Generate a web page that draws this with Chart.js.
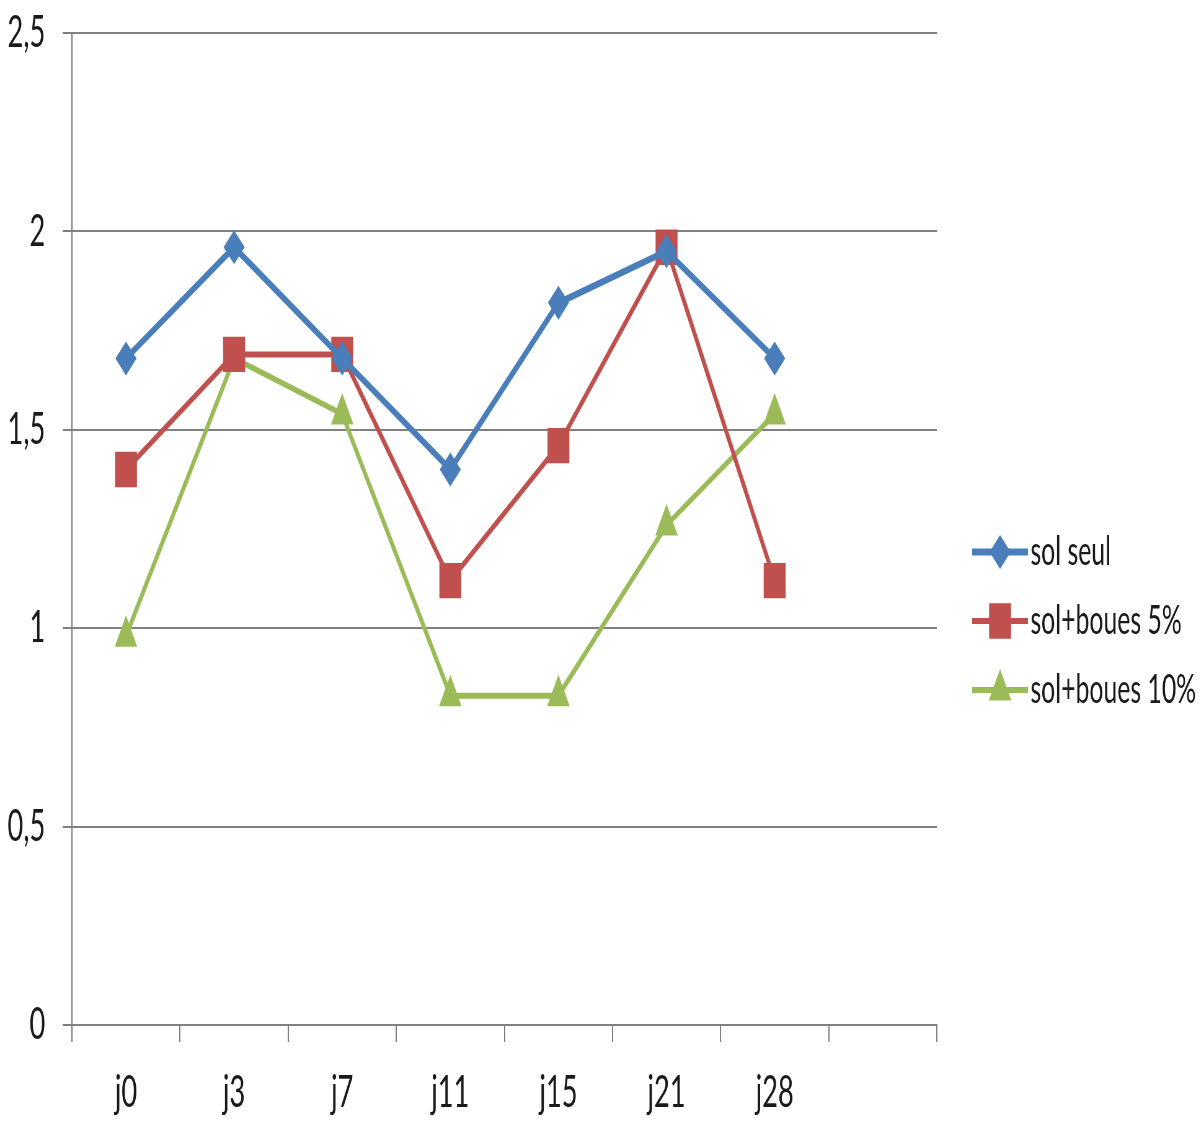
<!DOCTYPE html>
<html>
<head>
<meta charset="utf-8">
<script src="https://cdn.jsdelivr.net/npm/chart.js@4.4.1/dist/chart.umd.min.js"></script>
<style>
  html, body { margin: 0; padding: 0; background: #fff; overflow: hidden; }
  /* the drawing is laid out wide and condensed horizontally */
  #wrap { position: absolute; left: 0; top: 0; width: 1942px; height: 1129px;
          transform: scaleX(0.62); transform-origin: 0 0; }
  canvas { display: block; }
</style>
</head>
<body>
<div id="wrap"><canvas id="c" width="1942" height="1129"></canvas></div>
<script>
// Sampling days (the last slot is left empty)
const categories = ['j0', 'j3', 'j7', 'j11', 'j15', 'j21', 'j28', ''];

// Measured values per treatment
const solSeul   = [1.68, 1.96, 1.68, 1.40, 1.82, 1.95, 1.68];
const boues5    = [1.40, 1.69, 1.69, 1.12, 1.46, 1.96, 1.12];
const boues10   = [0.98, 1.68, 1.54, 0.83, 0.83, 1.26, 1.54];

const seriesNames = ['sol seul', 'sol+boues 5%', 'sol+boues 10%'];

// Y axis labels (decimal comma)
const yTickLabels = ['0', '0,5', '1', '1,5', '2', '2,5'];

const FONT = 'Lato, "Open Sans", "DejaVu Sans", sans-serif';
const GRID = '#808080';

// Legend drawn at the right of the plot: line sample + marker + name
const sideLegend = {
  id: 'sideLegend',
  afterDraw(chart) {
    const ctx = chart.ctx;
    const x0 = 1568, x1 = 1658, textX = 1662;
    const rows = [552, 621, 690];
    chart.data.datasets.forEach((ds, i) => {
      const y = rows[i];
      ctx.save();
      ctx.strokeStyle = ds.borderColor;
      ctx.lineWidth = ds.borderWidth;
      ctx.beginPath();
      ctx.moveTo(x0, y);
      ctx.lineTo(x1, y);
      ctx.stroke();
      ctx.fillStyle = ds.pointBackgroundColor;
      const cx = (x0 + x1) / 2;
      const r = ds.pointRadius;
      ctx.beginPath();
      if (ds.pointStyle === 'rectRot') {
        ctx.moveTo(cx, y - r); ctx.lineTo(cx + r, y); ctx.lineTo(cx, y + r); ctx.lineTo(cx - r, y);
      } else if (ds.pointStyle === 'rect') {
        const s = r * Math.SQRT1_2;
        ctx.rect(cx - s, y - s, 2 * s, 2 * s);
      } else {
        ctx.moveTo(cx, y - r);
        ctx.lineTo(cx + r * Math.cos(Math.PI / 6), y + r / 2);
        ctx.lineTo(cx - r * Math.cos(Math.PI / 6), y + r / 2);
      }
      ctx.closePath();
      ctx.fill();
      ctx.fillStyle = '#1a1a1a';
      ctx.font = '40px ' + FONT;
      ctx.textBaseline = 'middle';
      ctx.textAlign = 'left';
      ctx.fillText(ds.label, textX, y);
      ctx.restore();
    });
  }
};

new Chart(document.getElementById('c'), {
  type: 'line',
  data: {
    labels: categories,
    datasets: [
      { label: seriesNames[0], data: solSeul, borderColor: '#4a7ebb', backgroundColor: '#4a7ebb',
        pointBackgroundColor: '#4a7ebb', pointBorderColor: '#4a7ebb', borderWidth: 7,
        pointStyle: 'rectRot', pointRadius: 17, pointBorderWidth: 0, tension: 0 },
      { label: seriesNames[1], data: boues5, borderColor: '#c0504d', backgroundColor: '#c0504d',
        pointBackgroundColor: '#c0504d', pointBorderColor: '#c0504d', borderWidth: 6,
        pointStyle: 'rect', pointRadius: 25, pointBorderWidth: 0, tension: 0 },
      { label: seriesNames[2], data: boues10, borderColor: '#9bbb59', backgroundColor: '#9bbb59',
        pointBackgroundColor: '#9bbb59', pointBorderColor: '#9bbb59', borderWidth: 6,
        pointStyle: 'triangle', pointRadius: 21, pointBorderWidth: 0, tension: 0 }
    ]
  },
  options: {
    responsive: false,
    animation: false,
    devicePixelRatio: 1,
    layout: { padding: { top: 33, right: 431, bottom: 0, left: 0 } },
    plugins: { legend: { display: false }, tooltip: { enabled: false } },
    scales: {
      x: {
        offset: true,
        grid: { offset: true, drawOnChartArea: false, drawTicks: true, tickLength: 17,
                color: GRID, lineWidth: 2 },
        border: { display: true, color: GRID, width: 2 },
        ticks: { color: '#1a1a1a', font: { family: FONT, size: 44 }, padding: 24,
                 maxRotation: 0, autoSkip: false },
        afterFit(scale) { scale.height = 104; }
      },
      y: {
        min: 0, max: 2.5,
        grid: { color: GRID, lineWidth: 2, tickLength: 15, drawTicks: true },
        border: { display: true, color: GRID, width: 2 },
        ticks: { stepSize: 0.5, color: '#1a1a1a', font: { family: FONT, size: 44 }, padding: 28,
                 callback: (v, i) => yTickLabels[i] },
        afterFit(scale) { scale.width = 116; scale.paddingTop = 0; scale.paddingBottom = 0; }
      }
    }
  },
  plugins: [sideLegend]
});
</script>
</body>
</html>
